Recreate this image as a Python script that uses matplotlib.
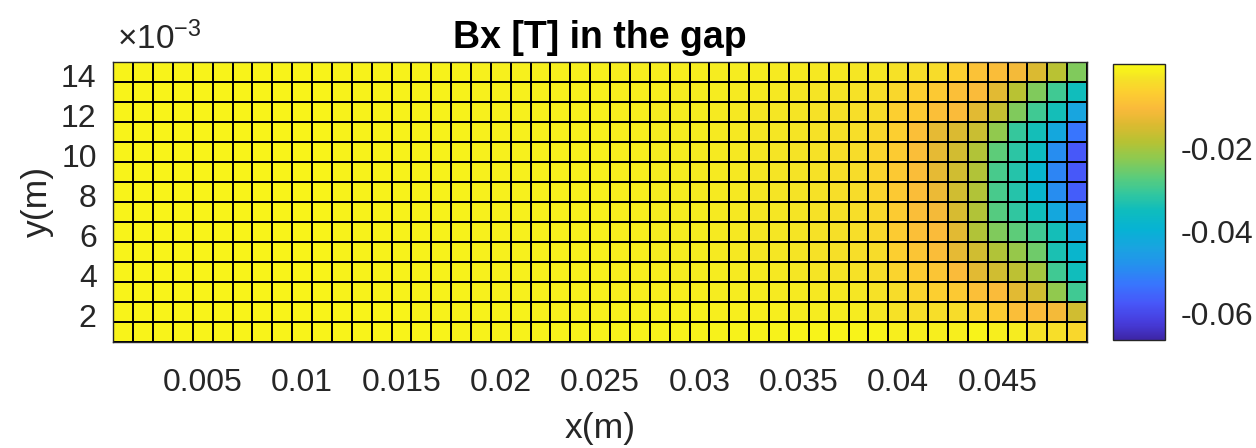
import numpy as np
import matplotlib
matplotlib.use('Agg')
import matplotlib.pyplot as plt
from matplotlib.colors import LinearSegmentedColormap

# Bx in the gap, mT, rows listed from top (y = 14.7 mm) down to bottom
bx_rows_mT = [
    [-0.5, -0.5, -0.5, -0.5, -0.5, -0.5, -0.6, -0.6, -0.6, -0.6, -0.6, -0.7, -0.7, -0.7, -0.7, -0.8, -0.8, -0.8, -0.9, -0.9, -1.0, -1.0, -1.0, -1.1, -1.1, -1.2,
     -1.2, -1.2, -1.3, -1.3, -1.4, -1.5, -1.6, -1.7, -1.8, -2.0, -2.1,
     -2.3, -2.3, -3.0, -3.7, -4.0, -6.0, -8.7, -9.7, -11.0, -14.1, -18.1, -23.5],
    [-0.5, -0.5, -0.5, -0.5, -0.5, -0.5, -0.6, -0.6, -0.6, -0.6, -0.6, -0.7, -0.7, -0.7, -0.7, -0.8, -0.8, -0.8, -0.9, -0.9, -1.0, -1.0, -1.0, -1.1, -1.1, -1.2,
     -1.2, -1.3, -1.4, -1.5, -1.6, -1.7, -1.9, -2.1, -2.3, -2.5, -2.8,
     -3.0, -3.7, -4.7, -6.0, -7.4, -9.0, -10.0, -13.4, -18.1, -23.5, -29.5, -34.9],
    [-0.5, -0.5, -0.5, -0.5, -0.5, -0.5, -0.6, -0.6, -0.6, -0.6, -0.6, -0.7, -0.7, -0.7, -0.7, -0.8, -0.8, -0.8, -0.9, -0.9, -1.0, -1.0, -1.0, -1.1, -1.1, -1.2,
     -1.3, -1.4, -1.5, -1.6, -1.8, -2.0, -2.2, -2.4, -2.7, -3.0, -3.3,
     -3.7, -4.0, -6.0, -7.4, -9.0, -10.0, -13.4, -16.7, -23.5, -29.5, -34.2, -43.6],
    [-0.5, -0.5, -0.5, -0.5, -0.5, -0.5, -0.6, -0.6, -0.6, -0.6, -0.6, -0.7, -0.7, -0.7, -0.7, -0.8, -0.8, -0.8, -0.9, -0.9, -1.0, -1.0, -1.0, -1.1, -1.1, -1.2,
     -1.3, -1.4, -1.5, -1.6, -1.8, -2.0, -2.2, -2.4, -2.7, -3.0, -3.3,
     -3.7, -4.7, -6.0, -9.0, -12.7, -14.1, -16.1, -22.1, -30.5, -34.2, -42.9, -53.0],
    [-0.5, -0.5, -0.5, -0.5, -0.5, -0.5, -0.6, -0.6, -0.6, -0.6, -0.6, -0.7, -0.7, -0.7, -0.7, -0.8, -0.8, -0.8, -0.9, -0.9, -1.0, -1.0, -1.0, -1.1, -1.1, -1.2,
     -1.3, -1.4, -1.5, -1.7, -1.9, -2.1, -2.3, -2.6, -2.9, -3.2, -3.6,
     -4.0, -5.3, -6.7, -9.4, -12.7, -15.1, -18.8, -26.8, -31.8, -35.5, -49.0, -57.3],
    [-0.5, -0.5, -0.5, -0.5, -0.5, -0.5, -0.6, -0.6, -0.6, -0.6, -0.6, -0.7, -0.7, -0.7, -0.7, -0.8, -0.8, -0.8, -0.9, -0.9, -1.0, -1.0, -1.0, -1.1, -1.1, -1.2,
     -1.3, -1.4, -1.5, -1.7, -1.9, -2.1, -2.3, -2.6, -2.9, -3.2, -3.6,
     -4.0, -5.3, -7.4, -9.7, -12.7, -15.4, -18.8, -28.8, -32.5, -38.2, -50.3, -57.3],
    [-0.5, -0.5, -0.5, -0.5, -0.5, -0.5, -0.6, -0.6, -0.6, -0.6, -0.6, -0.7, -0.7, -0.7, -0.7, -0.8, -0.8, -0.8, -0.9, -0.9, -1.0, -1.0, -1.0, -1.1, -1.1, -1.2,
     -1.3, -1.4, -1.5, -1.7, -1.9, -2.1, -2.3, -2.6, -2.9, -3.2, -3.6,
     -4.0, -5.3, -7.4, -9.7, -12.0, -15.4, -18.8, -28.8, -32.5, -38.2, -49.0, -56.7],
    [-0.5, -0.5, -0.5, -0.5, -0.5, -0.5, -0.6, -0.6, -0.6, -0.6, -0.6, -0.7, -0.7, -0.7, -0.7, -0.8, -0.8, -0.8, -0.9, -0.9, -1.0, -1.0, -1.0, -1.1, -1.1, -1.2,
     -1.3, -1.4, -1.5, -1.6, -1.8, -2.0, -2.2, -2.4, -2.7, -3.0, -3.3,
     -3.7, -4.7, -6.7, -9.4, -11.0, -14.7, -18.8, -27.5, -31.2, -34.9, -42.9, -49.6],
    [-0.5, -0.5, -0.5, -0.5, -0.5, -0.5, -0.6, -0.6, -0.6, -0.6, -0.6, -0.7, -0.7, -0.7, -0.7, -0.8, -0.8, -0.8, -0.9, -0.9, -1.0, -1.0, -1.0, -1.1, -1.1, -1.2,
     -1.3, -1.4, -1.5, -1.6, -1.8, -2.0, -2.2, -2.4, -2.7, -3.0, -3.3,
     -3.7, -4.7, -6.7, -9.0, -10.0, -13.4, -18.8, -23.5, -26.8, -29.5, -34.2, -42.9],
    [-0.5, -0.5, -0.5, -0.5, -0.5, -0.5, -0.6, -0.6, -0.6, -0.6, -0.6, -0.7, -0.7, -0.7, -0.7, -0.8, -0.8, -0.8, -0.9, -0.9, -1.0, -1.0, -1.0, -1.1, -1.1, -1.2,
     -1.3, -1.4, -1.5, -1.6, -1.8, -2.0, -2.2, -2.4, -2.7, -3.0, -3.3,
     -3.7, -4.0, -6.0, -8.0, -9.7, -12.7, -15.4, -18.8, -21.4, -25.1, -33.5, -38.2],
    [-0.5, -0.5, -0.5, -0.5, -0.5, -0.5, -0.6, -0.6, -0.6, -0.6, -0.6, -0.7, -0.7, -0.7, -0.7, -0.8, -0.8, -0.8, -0.9, -0.9, -1.0, -1.0, -1.0, -1.1, -1.1, -1.2,
     -1.2, -1.3, -1.4, -1.5, -1.6, -1.7, -1.9, -2.1, -2.3, -2.5, -2.8,
     -3.0, -4.0, -5.3, -6.7, -8.0, -10.0, -13.4, -15.4, -17.4, -20.1, -29.5, -34.9],
    [-0.5, -0.5, -0.5, -0.5, -0.5, -0.5, -0.6, -0.6, -0.6, -0.6, -0.6, -0.7, -0.7, -0.7, -0.7, -0.8, -0.8, -0.8, -0.9, -0.9, -1.0, -1.0, -1.0, -1.1, -1.1, -1.2,
     -1.2, -1.2, -1.3, -1.3, -1.4, -1.5, -1.6, -1.7, -1.8, -2.0, -2.1,
     -2.3, -3.0, -4.0, -5.3, -6.0, -7.4, -9.0, -10.0, -13.4, -15.4, -22.1, -29.5],
    [-0.4, -0.4, -0.4, -0.4, -0.4, -0.4, -0.5, -0.5, -0.5, -0.5, -0.5, -0.6, -0.6, -0.6, -0.6, -0.7, -0.7, -0.7, -0.8, -0.8, -0.8, -0.9, -0.9, -0.9, -1.0, -1.0,
     -1.0, -1.0, -1.1, -1.1, -1.2, -1.2, -1.3, -1.3, -1.4, -1.4, -1.5,
     -1.6, -2.3, -3.0, -3.7, -3.7, -4.0, -5.3, -6.7, -9.4, -10.0, -11.0, -15.4],
    [-0.4, -0.4, -0.4, -0.4, -0.4, -0.4, -0.5, -0.5, -0.5, -0.5, -0.5, -0.5, -0.6, -0.6, -0.6, -0.6, -0.6, -0.7, -0.7, -0.7, -0.7, -0.8, -0.8, -0.8, -0.8, -0.8,
     -0.8, -0.8, -0.8, -0.8, -0.7, -0.7, -0.7, -0.7, -0.6, -0.6, -0.6,
     -0.6, -0.6, -1.3, -1.3, -1.3, -1.3, -0.6, -1.3, -1.6, -3.0, -3.7, -4.7],
]

# mesh nodes (m): 50 x nodes, 15 y nodes
x_nodes = np.linspace(0.0005, 0.0495, 50)
y_nodes = np.linspace(0.0007, 0.0147, 15)

x_ticks = [0.005, 0.01, 0.015, 0.02, 0.025, 0.03, 0.035, 0.04, 0.045]
x_tick_labels = ['0.005', '0.01', '0.015', '0.02', '0.025', '0.03', '0.035', '0.04', '0.045']
y_ticks = [0.002, 0.004, 0.006, 0.008, 0.010, 0.012, 0.014]
y_tick_labels = ['2', '4', '6', '8', '10', '12', '14']
cbar_ticks = [-0.06, -0.04, -0.02]
cbar_tick_labels = ['-0.06', '-0.04', '-0.02']

# parula-like colormap, stops matched to the reference colour bar
parula_stops = [
    (0.00, (0.2422, 0.1504, 0.6603)),
    (0.06, (0.2760, 0.2350, 0.8600)),
    (0.13, (0.2800, 0.3400, 0.9750)),
    (0.20, (0.2200, 0.4600, 0.9950)),
    (0.27, (0.1400, 0.5700, 0.9300)),
    (0.33, (0.1000, 0.6400, 0.8800)),
    (0.40, (0.0250, 0.7000, 0.8300)),
    (0.47, (0.0600, 0.7400, 0.7400)),
    (0.53, (0.2000, 0.7800, 0.6200)),
    (0.59, (0.3600, 0.8000, 0.4800)),
    (0.66, (0.5600, 0.7900, 0.3100)),
    (0.72, (0.7200, 0.7600, 0.2000)),
    (0.78, (0.8600, 0.7300, 0.1900)),
    (0.84, (0.9800, 0.7300, 0.2300)),
    (0.90, (0.9900, 0.8100, 0.1900)),
    (0.95, (0.9600, 0.8900, 0.1500)),
    (1.00, (0.9769, 0.9839, 0.0805)),
]
parula = LinearSegmentedColormap.from_list('parula', parula_stops, N=256)

plt.rcParams['font.family'] = ['Liberation Sans', 'DejaVu Sans']
plt.rcParams['axes.unicode_minus'] = False
plt.rcParams['mathtext.fontset'] = 'custom'
plt.rcParams['mathtext.rm'] = 'Liberation Sans'
plt.rcParams['mathtext.it'] = 'Liberation Sans:italic'

text_col = '#262626'

bx = np.flipud(np.array(bx_rows_mT)) * 1e-3

fig = plt.figure(figsize=(12.56, 4.48), dpi=100)
ax = fig.add_axes([113.3 / 1256, (448 - 341.7) / 448, 973.7 / 1256, 279.7 / 448])

mesh = ax.pcolormesh(x_nodes, y_nodes, bx, cmap=parula, vmin=-0.0664, vmax=0.0007,
                     edgecolors='k', linewidth=1.4, shading='flat')

ax.set_xlim(x_nodes[0], x_nodes[-1])
ax.set_ylim(y_nodes[0], y_nodes[-1])
ax.set_xticks(x_ticks)
ax.set_xticklabels(x_tick_labels)
ax.set_yticks(y_ticks)
ax.set_yticklabels(y_tick_labels)
ax.tick_params(axis='x', length=0, labelsize=23, colors=text_col, pad=19)
ax.tick_params(axis='y', length=0, labelsize=23, colors=text_col, pad=12)
for sp in ax.spines.values():
    sp.set_edgecolor(text_col)
    sp.set_linewidth(1.0)

ax.set_title('Bx [T] in the gap', fontsize=27, fontweight='bold', pad=10)
ax.set_xlabel('x(m)', fontsize=25.5, color=text_col, labelpad=10)
ax.set_ylabel('y(m)', fontsize=25.5, color=text_col, labelpad=5)
ax.text(0.004, 1.02, r'$\times10^{-3}$', transform=ax.transAxes, fontsize=24,
        ha='left', va='bottom', color=text_col)

# colorbar
cax = fig.add_axes([1113.3 / 1256, (448 - 339.5) / 448, 51.7 / 1256, 275.5 / 448])
cb = fig.colorbar(mesh, cax=cax, ticks=cbar_ticks)
cb.ax.set_yticklabels(cbar_tick_labels)
cb.ax.tick_params(labelsize=23, length=0, colors=text_col, pad=11)
cb.outline.set_edgecolor(text_col)
cb.outline.set_linewidth(1.0)

fig.savefig('out.png', dpi=100)
